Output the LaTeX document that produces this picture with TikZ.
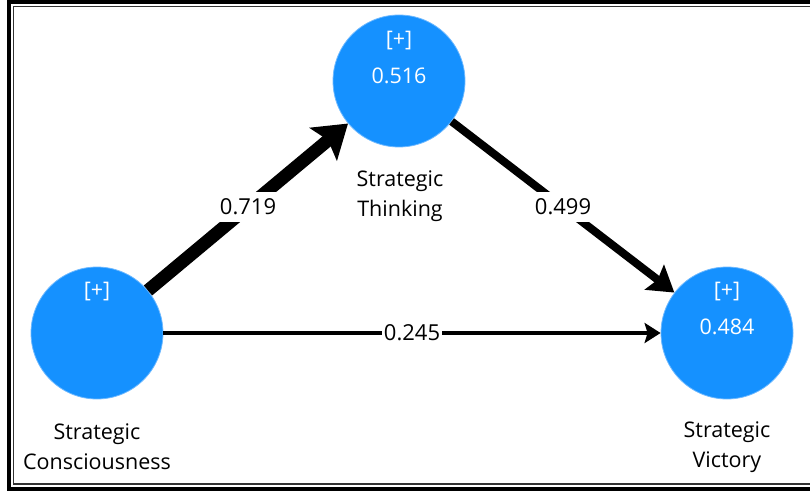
\documentclass[tikz,border=0pt]{standalone}
\usepackage{fontspec}
\setmainfont{Open Sans}
\usetikzlibrary{arrows.meta}
\definecolor{nodeblue}{RGB}{21,145,255}
\definecolor{rimblue}{RGB}{110,185,255}
\begin{document}
\begin{tikzpicture}[x=1pt,y=-1pt,
  lv/.style={circle, fill=nodeblue, draw=rimblue, line width=0.8pt, minimum size=132pt, inner sep=0pt},
  lbl/.style={font=\fontsize{21.5}{30}\selectfont, align=center, text=black, inner sep=0pt},
  intext/.style={font=\fontsize{21.5}{24}\selectfont, text=white, inner sep=0pt},
  coef/.style={font=\fontsize{22}{24}\selectfont, fill=white, inner xsep=2pt, inner ysep=7pt},
  pth/.style={draw=black},
]
\useasboundingbox (0,0) rectangle (810,494);
% frame
\draw[line width=4pt] (9,2) rectangle (840,489);
\draw[line width=1.5pt, black!80] (13.5,6.5) rectangle (840,484);
% latent variables
\node[lv] (SC) at (97,333) {};
\node[lv] (ST) at (399,81) {};
\node[lv] (SV) at (727,333) {};
\node[intext] (SCplus) at (97,292) {[+]};
\node[intext] (STplus) at (399,41) {[+]};
\node[intext] (STval) at (399,76) {0.516};
\node[intext] (SVplus) at (727,292) {[+]};
\node[intext] (SVval) at (727,327) {0.484};
% labels
\node[lbl] (SClab) at (97,447) {Strategic\\Consciousness};
\node[lbl] (STlab) at (400,196) {Strategic\\Thinking};
\node[lbl] (SVlab) at (727,447) {Strategic\\Victory};
% paths
\draw[pth, line width=13pt, -{Stealth[length=32pt,width=42pt,inset=6pt]}] (SC) -- node[coef] {0.719} (ST);
\draw[pth, line width=8pt, -{Stealth[length=25pt,width=31pt,inset=4pt]}] (ST) -- node[coef] {0.499} (SV);
\draw[pth, line width=3.5pt, -{Stealth[length=16pt,width=20pt,inset=3pt]}] (SC) -- node[coef, inner sep=1.5pt] {0.245} (SV);
\end{tikzpicture}
\end{document}
